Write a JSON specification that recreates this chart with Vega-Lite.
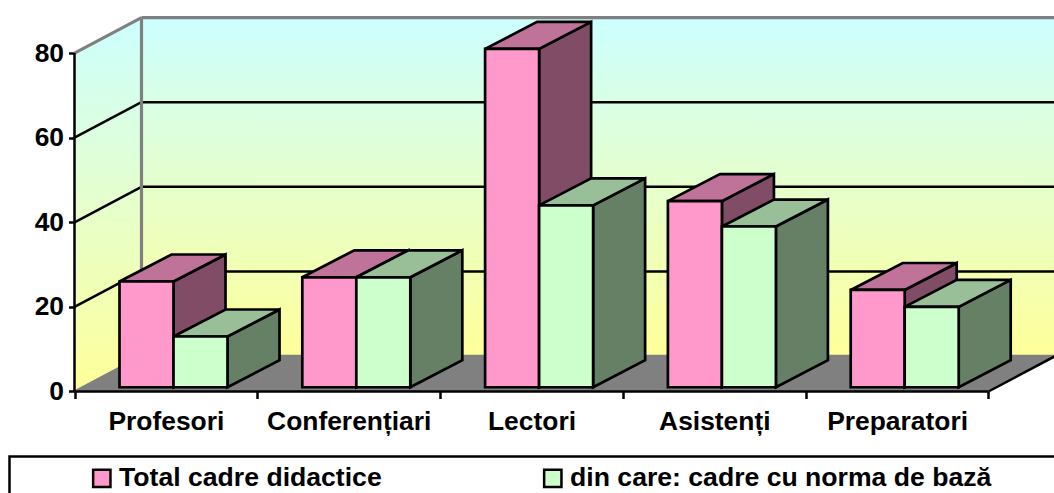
{
"$schema":"https://vega.github.io/schema/vega-lite/v6.json",
"width":1054,"height":493,"padding":0,"autosize":{"type":"none"},
"background":"white",
"config":{"view":{"stroke":null},"font":"Liberation Sans"},
"datasets":{
"bars":[
{"category":"Profesori","series":"Total cadre didactice","value":25},
{"category":"Conferențiari","series":"Total cadre didactice","value":26},
{"category":"Lectori","series":"Total cadre didactice","value":80},
{"category":"Asistenți","series":"Total cadre didactice","value":44},
{"category":"Preparatori","series":"Total cadre didactice","value":23},
{"category":"Profesori","series":"din care: cadre cu norma de bază","value":12},
{"category":"Conferențiari","series":"din care: cadre cu norma de bază","value":26},
{"category":"Lectori","series":"din care: cadre cu norma de bază","value":43},
{"category":"Asistenți","series":"din care: cadre cu norma de bază","value":38},
{"category":"Preparatori","series":"din care: cadre cu norma de bază","value":19}
],
"ticks":[{"tick":0},{"tick":20},{"tick":40},{"tick":60},{"tick":80}]
},
"encoding":{
"x":{"field":"px","type":"quantitative","scale":{"domain":[-0.40755,5.35832],"nice":false,"zero":false},
"axis":{"orient":"bottom","offset":-101.5,"title":null,"domain":false,"grid":false,"values":[0,0.5,1,1.5,2,2.5,3,3.5,4,4.5,5],
"tickSize":7,"tickWidth":2.5,"tickColor":"black","tickOpacity":{"condition":{"test":"datum.value % 1 === 0","value":1},"value":0},
"labelExpr":"datum.value % 1 === 0 ? '' : ['Profesori','Conferențiari','Lectori','Asistenți','Preparatori'][floor(datum.value)]",
"labelFontSize":26.4,"labelFontWeight":"bold","labelColor":"black","labelPadding":10,"labelOverlap":false,"labelFlush":false,"labelAlign":"center"}},
"y":{"field":"py","type":"quantitative","scale":{"domain":[-24,92.553],"nice":false,"zero":false},
"axis":{"orient":"left","offset":-74.5,"title":null,"domain":false,"grid":false,"values":[0,20,40,60,80],
"tickSize":6,"tickWidth":2.5,"tickColor":"black","labelFontSize":26.4,"labelFontWeight":"bold","labelColor":"black","labelPadding":5}}
},
"layer":[
{"data":{"name":"ticks"},
"transform":[{"filter":"datum.tick==80"},{"calculate":"0.3665","as":"px"},{"calculate":"6","as":"px2"},{"calculate":"datum.tick+8.39","as":"py"},{"calculate":"8.39","as":"py2"}],
"mark":{"type":"rect","clip":true,"fill":{"gradient":"linear","x1":0,"y1":0,"x2":0,"y2":1,"stops":[{"offset":0,"color":"#CCFFFF"},{"offset":1,"color":"#FFFF99"}]}},
"encoding":{"x2":{"field":"px2"},"y2":{"field":"py2"}}},
{"data":{"name":"ticks"},
"transform":[{"filter":"datum.tick==80"},{"calculate":"[0,0.3665,0.3665,0,0]","as":"px"},{"calculate":"[datum.tick,datum.tick+8.39,8.39,0,datum.tick]","as":"py"},{"calculate":"[0,1,2,3,4]","as":"ord"},{"flatten":["px","py","ord"]}],
"mark":{"type":"line","strokeWidth":0,"fill":{"gradient":"linear","x1":0,"y1":0,"x2":0,"y2":1,"stops":[{"offset":0,"color":"#CCFFFF"},{"offset":1,"color":"#FFFF99"}]}},
"encoding":{"order":{"field":"ord"}}},
{"data":{"name":"ticks"},
"transform":[{"filter":"datum.tick==0"},{"calculate":"[0,0.3665,5.3665,5,0]","as":"px"},{"calculate":"[0,8.39,8.39,0,0]","as":"py"},{"calculate":"[0,1,2,3,4]","as":"ord"},{"flatten":["px","py","ord"]}],
"mark":{"type":"line","clip":true,"strokeWidth":0,"fill":"#808080"},
"encoding":{"order":{"field":"ord"}}},
{"data":{"name":"ticks"},
"transform":[{"calculate":"0.3665","as":"px"},{"calculate":"6","as":"px2"},{"calculate":"datum.tick+8.39","as":"py"}],
"mark":{"type":"rule","clip":true},
"encoding":{"x2":{"field":"px2"},
"stroke":{"condition":{"test":"datum.tick==0||datum.tick==80","value":"#808080"},"value":"black"},
"strokeWidth":{"condition":{"test":"datum.tick==80","value":3.2},"value":2.5}}},
{"data":{"name":"ticks"},
"transform":[{"calculate":"[0,0.3665]","as":"px"},{"calculate":"[datum.tick,datum.tick+8.39]","as":"py"},{"flatten":["px","py"]}],
"mark":{"type":"line"},
"encoding":{"detail":{"field":"tick"},
"stroke":{"condition":{"test":"datum.tick==0||datum.tick==80","value":"#808080"},"value":"black"},
"strokeWidth":{"condition":{"test":"datum.tick==80","value":3.2},"value":2.5}}},
{"data":{"name":"ticks"},
"transform":[{"filter":"datum.tick==80"},{"calculate":"0.3665","as":"px"},{"calculate":"datum.tick+8.39","as":"py"},{"calculate":"8.39","as":"py2"}],
"mark":{"type":"rule","stroke":"#808080","strokeWidth":3.2},
"encoding":{"y2":{"field":"py2"}}},
{"data":{"name":"ticks"},
"transform":[{"filter":"datum.tick==80"},{"calculate":"0","as":"px"},{"calculate":"datum.tick","as":"py"},{"calculate":"0","as":"py2"}],
"mark":{"type":"rule","stroke":"black","strokeWidth":2.5},
"encoding":{"y2":{"field":"py2"}}},
{"data":{"name":"ticks"},
"transform":[{"filter":"datum.tick==0"},{"calculate":"0","as":"px"},{"calculate":"5","as":"px2"},{"calculate":"datum.tick","as":"py"}],
"mark":{"type":"rule","stroke":"black","strokeWidth":2.5},
"encoding":{"x2":{"field":"px2"}}},
{"data":{"name":"ticks"},
"transform":[{"filter":"datum.tick==0"},{"calculate":"[5,5.3665]","as":"px"},{"calculate":"[0,8.39]","as":"py"},{"flatten":["px","py"]}],
"mark":{"type":"line","stroke":"black","strokeWidth":2.5,"clip":true}},
{"data":{"name":"bars"},
"transform":[
{"calculate":"indexof(['Profesori','Conferențiari','Lectori','Asistenți','Preparatori'],datum.category)","as":"i"},
{"calculate":"datum.series=='Total cadre didactice'?0:1","as":"j"},
{"calculate":"datum.i+0.2462+0.2954*datum.j","as":"x0"},
{"calculate":"datum.x0+0.2954","as":"x1"},
{"calculate":"datum.value+1","as":"t"}
],
"layer":[
{"transform":[{"filter":"datum.j==0"},{"calculate":"[datum.x1,datum.x1+0.2845,datum.x1+0.2845,datum.x1,datum.x1]","as":"px"},{"calculate":"[datum.t,datum.t+6.38,7.38,1,datum.t]","as":"py"},{"calculate":"[0,1,2,3,4]","as":"ord"},{"flatten":["px","py","ord"]}],
"mark":{"type":"line","fill":"#804C66","stroke":"black","strokeWidth":2.7},
"encoding":{"detail":{"field":"category"},"order":{"field":"ord"}}},
{"transform":[{"filter":"datum.j==0"},{"calculate":"[datum.x0,datum.x1,datum.x1+0.2845,datum.x0+0.2845,datum.x0]","as":"px"},{"calculate":"[datum.t,datum.t,datum.t+6.38,datum.t+6.38,datum.t]","as":"py"},{"calculate":"[0,1,2,3,4]","as":"ord"},{"flatten":["px","py","ord"]}],
"mark":{"type":"line","fill":"#BF7399","stroke":"black","strokeWidth":2.7},
"encoding":{"detail":{"field":"category"},"order":{"field":"ord"}}},
{"transform":[{"filter":"datum.j==1"},{"calculate":"[datum.x1,datum.x1+0.2845,datum.x1+0.2845,datum.x1,datum.x1]","as":"px"},{"calculate":"[datum.t,datum.t+6.38,7.38,1,datum.t]","as":"py"},{"calculate":"[0,1,2,3,4]","as":"ord"},{"flatten":["px","py","ord"]}],
"mark":{"type":"line","fill":"#668066","stroke":"black","strokeWidth":2.7},
"encoding":{"detail":{"field":"category"},"order":{"field":"ord"}}},
{"transform":[{"filter":"datum.j==1"},{"calculate":"[datum.x0,datum.x1,datum.x1+0.2845,datum.x0+0.2845,datum.x0]","as":"px"},{"calculate":"[datum.t,datum.t,datum.t+6.38,datum.t+6.38,datum.t]","as":"py"},{"calculate":"[0,1,2,3,4]","as":"ord"},{"flatten":["px","py","ord"]}],
"mark":{"type":"line","fill":"#99BF99","stroke":"black","strokeWidth":2.7},
"encoding":{"detail":{"field":"category"},"order":{"field":"ord"}}},
{"transform":[{"calculate":"datum.x0","as":"px"},{"calculate":"datum.x1","as":"px2"},{"calculate":"datum.t","as":"py"},{"calculate":"1","as":"py2"}],
"mark":{"type":"rect","stroke":"black","strokeWidth":2.7},
"encoding":{"x2":{"field":"px2"},"y2":{"field":"py2"},
"color":{"field":"series","type":"nominal","sort":null,
"scale":{"domain":["Total cadre didactice","din care: cadre cu norma de bază"],"range":["#FF99CC","#CCFFCC"]},
"legend":{"orient":"none","legendX":88.5,"legendY":465,"title":null,"columns":2,"columnPadding":156,"padding":0,"symbolType":"square","symbolSize":300,"symbolStrokeColor":"black","symbolStrokeWidth":2.5,"labelFontSize":26.6,"labelFontWeight":"bold","labelColor":"black","labelOffset":4,"labelLimit":600}}}}
]},
{"data":{"name":"ticks"},
"transform":[{"filter":"datum.tick==0"},{"calculate":"-0.3556","as":"px"},{"calculate":"6","as":"px2"},{"calculate":"-15.4","as":"py"},{"calculate":"-30","as":"py2"}],
"mark":{"type":"rect","clip":true,"fill":null,"stroke":"black","strokeWidth":2.5},
"encoding":{"x2":{"field":"px2"},"y2":{"field":"py2"}}}
]
}
